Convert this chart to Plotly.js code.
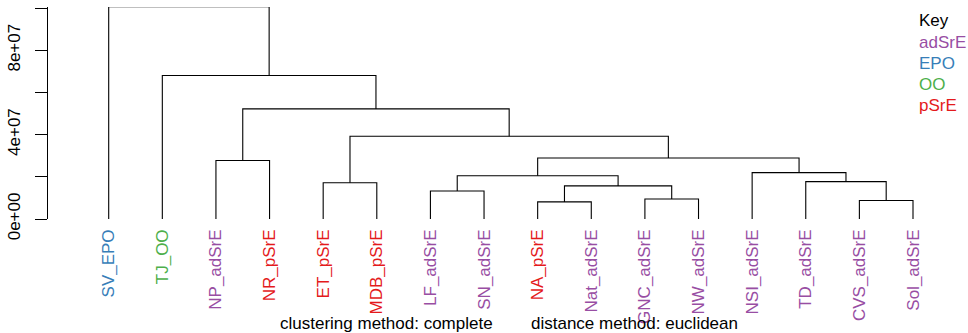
<!DOCTYPE html>
<html>
<head>
<meta charset="utf-8">
<script src="https://cdn.plot.ly/plotly-3.0.1.min.js"></script>
<style>html,body{margin:0;padding:0;background:#fff;}#chart{width:968px;height:333px;}</style>
</head>
<body>
<div id="chart"></div>
<script>
// Leaf labels in dendrogram order
const leafLabels = ["SV_EPO","TJ_OO","NP_adSrE","NR_pSrE","ET_pSrE","MDB_pSrE","LF_adSrE","SN_adSrE",
  "NA_pSrE","Nat_adSrE","GNC_adSrE","NW_adSrE","NSI_adSrE","TD_adSrE","CVS_adSrE","Sol_adSrE"];
const leafGroups = ["EPO","OO","adSrE","pSrE","pSrE","pSrE","adSrE","adSrE",
  "pSrE","adSrE","adSrE","adSrE","adSrE","adSrE","adSrE","adSrE"];
// Key
const keyNames = ["adSrE","EPO","OO","pSrE"];
const keyColors = ["#984EA3","#377EB8","#4DAF4A","#E41A1C"];
// hclust-style merges: negative = leaf (1-based in order above), positive = earlier merge row
const mergeLeft  = [-9,-15,-11,-7, 1,-5,-14, 4,-13,-3, 8, 6,10,-2,-1];
const mergeRight = [-10,-16,-12,-8, 3,-6, 2, 5, 7,-4, 9,11,12,13,14];
const mergeHeight = [8.1e6, 8.8e6, 9.5e6, 13.3e6, 15.7e6, 17.2e6, 17.7e6, 20.5e6, 22.0e6,
  27.7e6, 28.9e6, 39.2e6, 52.2e6, 68.0e6, 100.6e6];
// y ticks
const yTickVals = [0, 2e7, 4e7, 6e7, 8e7, 1e8];
const yTickText = ["0e+00", "", "4e+07", "", "8e+07", ""];

const colorOf = g => keyColors[keyNames.indexOf(g)];

// build segments
const xs = [], ys = [];
const nodeX = [], nodeH = [];
function pos(id) {
  if (id < 0) return [(-id), 0];
  return [nodeX[id - 1], nodeH[id - 1]];
}
for (let i = 0; i < mergeHeight.length; i++) {
  const [xl, hl] = pos(mergeLeft[i]);
  const [xr, hr] = pos(mergeRight[i]);
  const h = mergeHeight[i];
  xs.push(xl, xl, xr, xr, null);
  ys.push(hl, h, h, hr, null);
  nodeX.push((xl + xr) / 2);
  nodeH.push(h);
}

const font = "Liberation Sans, Arial, Helvetica, sans-serif";
const leafIdx = leafLabels.map((_, i) => i + 1);
const leafText = leafLabels.map((l, i) => '<span style="color:' + colorOf(leafGroups[i]) + '">' + l + '</span>');

const L = 48, R = 20, T = 7, B = 114;
const W = 968 - L - R, H = 333 - T - B;
const pxX = p => (p - L) / W;
const pxY = p => (333 - B - p) / H;

const annotations = [
  {text: "Key", color: "#000000", y: 21},
].concat(keyNames.map((k, i) => ({text: k, color: keyColors[i], y: 42 + 21 * i})))
 .map(a => ({xref: "paper", yref: "paper", x: pxX(917), y: pxY(a.y), xanchor: "left", yanchor: "middle",
   text: a.text, showarrow: false, font: {family: font, size: 17, color: a.color}}));
annotations.push({xref: "paper", yref: "paper", x: pxX(278), y: pxY(323), xanchor: "left", yanchor: "middle",
  text: "clustering method: complete", showarrow: false, font: {family: font, size: 17, color: "#000"}});
annotations.push({xref: "paper", yref: "paper", x: pxX(529), y: pxY(323), xanchor: "left", yanchor: "middle",
  text: "distance method: euclidean", showarrow: false, font: {family: font, size: 17, color: "#000"}});

const trace = {x: xs, y: ys, mode: "lines", type: "scatter", line: {color: "#000", width: 1.1},
  hoverinfo: "skip", showlegend: false};

const layout = {
  width: 968, height: 333,
  margin: {l: L, r: R, t: T, b: B, pad: 0},
  paper_bgcolor: "#fff", plot_bgcolor: "#fff",
  showlegend: false,
  font: {family: font, size: 17, color: "#000"},
  xaxis: {range: [-0.132, -0.132 + W / 53.62], showgrid: false, zeroline: false, showline: false,
    tickvals: leafIdx, ticktext: leafText, tickangle: -90, ticks: "", ticklabelstandoff: 6,
    tickfont: {family: font, size: 17}},
  yaxis: {range: [0, 1.005e8], showgrid: false, zeroline: false, showline: true, linecolor: "#000", linewidth: 1,
    ticks: "outside", ticklen: 12, tickwidth: 1, tickcolor: "#000",
    tickvals: yTickVals, ticktext: yTickText, tickangle: -90, ticklabelstandoff: 8,
    tickfont: {family: font, size: 17, color: "#000"}},
  annotations: annotations
};

Plotly.newPlot("chart", [trace], layout, {staticPlot: true, displayModeBar: false});
</script>
</body>
</html>
